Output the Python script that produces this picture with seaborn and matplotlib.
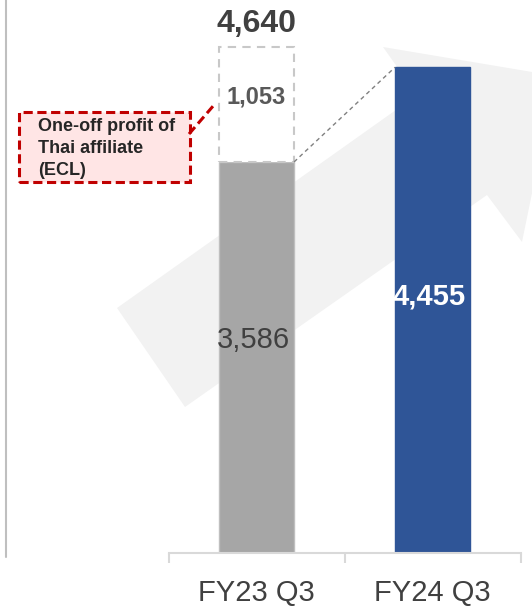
import matplotlib
matplotlib.use("Agg")
import matplotlib.pyplot as plt
from matplotlib.patches import Polygon, Rectangle
from matplotlib.lines import Line2D
import seaborn as sns
import pandas as pd

# ---- data ----
categories = ["FY23 Q3", "FY24 Q3"]
profit = [3586, 4455]
one_off = 1053
total_fy23 = 4640
annotation_text = "One-off profit of\nThai affiliate\n(ECL)"

sns.set_theme(style="white")
plt.rcParams['font.family'] = ['Liberation Sans', 'DejaVu Sans']

W, H = 532, 609
fig = plt.figure(figsize=(W / 100, H / 100), dpi=100)
base_px = 553
ax = fig.add_axes([0, (H - base_px) / H, 1, base_px / H])
ax.patch.set_visible(False)

def fx(px):
    return px / W

def fy(py):
    return 1 - py / H

# background arrow (decorative)
arrow_px = [(117, 308), (185, 407), (487, 195), (522, 242), (556, 76),
            (383, 47), (417, 95)]
arrow = Polygon([(fx(x), fy(y)) for x, y in arrow_px], closed=True,
                transform=fig.transFigure, facecolor="#f2f2f2",
                edgecolor="none", zorder=0)
ax.add_patch(arrow)

df = pd.DataFrame({"period": categories, "profit": profit})
sns.barplot(data=df, x="period", y="profit", hue="period",
            palette=["#a6a6a6", "#2f5597"], width=0.426, ax=ax,
            legend=False, saturation=1, zorder=2)
for p, ec in zip(ax.patches[1:], ["#bfbfbf", "#2f5597"]):
    p.set_edgecolor(ec)
    p.set_linewidth(1.0)

# one-off dashed segment on top of FY23
ax.bar(0, one_off, bottom=profit[0], width=0.426, facecolor="white",
       edgecolor="#c8c8c8", linestyle=(0, (4, 3)), linewidth=1.5, zorder=2)

# connector dashed line
hw = 0.426 / 2
ax.plot([0 + hw, 1 - hw], [profit[0], profit[1]], color="#808080",
        linestyle=(0, (3, 2.5)), linewidth=1.0, zorder=3)

# axes scale
ax.set_xlim(-0.5 - 168.5 / 176, 1.5 + 11.5 / 176)
ax.set_ylim(0, base_px / (391 / 3586))

# labels
ax.text(0, total_fy23 + 215, f"{total_fy23:,}", ha="center", va="center",
        fontsize=23, fontweight="bold", color="#404040", zorder=4)
ax.text(0, profit[0] + one_off / 2 + 70, f"{one_off:,}", ha="center",
        va="center", fontsize=17, fontweight="bold", color="#595959", zorder=4)
ax.text(-0.02, 1955, f"{profit[0]:,}", ha="center", va="center",
        fontsize=21, color="#404040", zorder=4)
ax.text(1 - 0.02, 2350, f"{profit[1]:,}", ha="center", va="center",
        fontsize=21, fontweight="bold", color="white", zorder=4)

# spines and ticks
for s in ["top", "right", "left"]:
    ax.spines[s].set_visible(False)
ax.spines["bottom"].set_bounds(-0.5, 1.5)
ax.spines["bottom"].set_color("#d9d9d9")
ax.spines["bottom"].set_linewidth(1.5)
ax.set_yticks([])
ax.set_xticks([0, 1])
ax.set_xticklabels(categories, fontsize=21, color="#404040")
ax.set_xticks([-0.5, 0.5, 1.5], minor=True)
ax.tick_params(axis="x", which="major", length=0, pad=19)
ax.tick_params(axis="x", which="minor", length=7, width=1.5,
               color="#d9d9d9", bottom=True, direction="out")
ax.set_xlabel("")
ax.set_ylabel("")

# left vertical line
fig.add_artist(Line2D([fx(5.5), fx(5.5)], [fy(0), fy(557)],
                      transform=fig.transFigure, color="#bfbfbf",
                      linewidth=1.5))

# annotation box
box = Rectangle((fx(19), fy(182)), fx(190) - fx(19), fy(112) - fy(182),
                transform=fig.transFigure, facecolor="#ffe5e5",
                edgecolor="#c00000", linestyle=(0, (3, 1.5)),
                linewidth=2.2, zorder=5)
fig.add_artist(box)
fig.text(fx(38), fy(118), annotation_text, ha="left", va="top",
         fontsize=13, fontweight="bold", color="#262626",
         linespacing=1.38, zorder=6)
fig.add_artist(Line2D([fx(189), fx(214)], [fy(134), fy(105)],
                      transform=fig.transFigure, color="#c00000",
                      linestyle=(0, (3, 1.5)), linewidth=2.2, zorder=5))

fig.savefig("out.png", dpi=100)
